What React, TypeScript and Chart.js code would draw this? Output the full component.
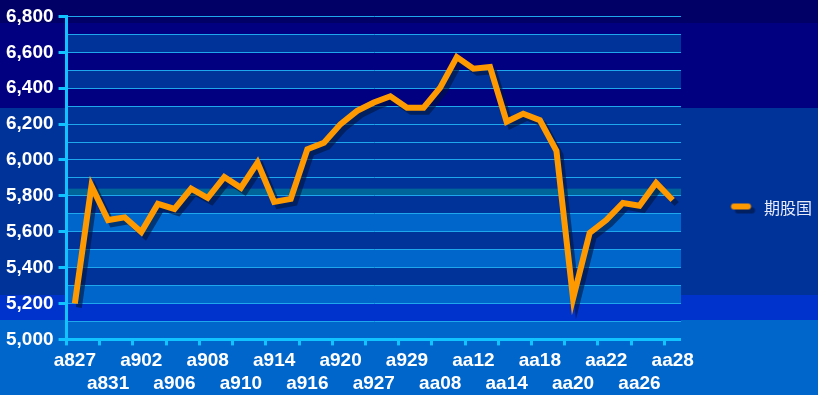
import React, { useEffect, useRef } from 'react';
import { Chart, registerables } from 'chart.js';
Chart.register(...registerables);

const labels = ['a827','a828','a831','a901','a902','a903','a906','a907','a908','a909','a910','a913','a914','a915','a916','a917','a920','a926','a927','a928','a929','a930','aa08','aa11','aa12','aa13','aa14','aa15','aa18','aa19','aa20','aa21','aa22','aa25','aa26','aa27','aa28'];
const values = [5200,5855,5665,5680,5598,5755,5727,5840,5788,5905,5845,5985,5766,5783,6060,6096,6200,6274,6320,6355,6291,6291,6403,6573,6509,6518,6213,6258,6222,6051,5228,5593,5665,5760,5745,5872,5777];
const seriesName = '期股国';
const yMin = 5000;
const yMax = 6800;
const yStep = 100;
const yLabelStep = 200;

// plot-area background bands: [fromValue, toValue, colour]
const plotBands: [number, number, string][] = [
  [6700, 6600, '#003399'],
  [6500, 6400, '#003399'],
  [6300, 5000, '#003399'],
  [5840, 5805, '#006699'],
  [5700, 5600, '#0066cc'],
  [5500, 5400, '#0066cc'],
  [5300, 5200, '#0066cc'],
  [5200, 5100, '#0033cc'],
  [5100, 5000, '#0066cc'],
];

const AXIS = '#11c4ff';
const GRID = '#1ea7ec';
const SHADOW = 'rgba(0,20,60,0.6)';

const bandsPlugin = {
  id: 'bands',
  beforeDraw(chart: any) {
    const { ctx, chartArea: a, scales } = chart;
    const y = scales.y;
    ctx.save();
    for (const [from, to, color] of plotBands) {
      const y1 = y.getPixelForValue(from);
      const y2 = y.getPixelForValue(to);
      ctx.fillStyle = color;
      ctx.fillRect(a.left, Math.min(y1, y2), a.right - a.left, Math.abs(y2 - y1));
    }
    ctx.restore();
  },
};

const shadowPlugin = {
  id: 'lineShadow',
  beforeDatasetsDraw(chart: any) {
    const ctx = chart.ctx;
    ctx.save();
    ctx.shadowColor = SHADOW;
    ctx.shadowOffsetX = 4;
    ctx.shadowOffsetY = 4;
    ctx.shadowBlur = 0;
  },
  afterDatasetsDraw(chart: any) {
    chart.ctx.restore();
  },
};

function makeLegendIcon() {
  const c = document.createElement('canvas');
  c.width = 66;
  c.height = 18;
  const g = c.getContext('2d')!;
  g.lineCap = 'round';
  g.lineWidth = 6;
  g.strokeStyle = SHADOW;
  g.beginPath();
  g.moveTo(47.5, 12);
  g.lineTo(61.5, 12);
  g.stroke();
  g.strokeStyle = '#ff9900';
  g.beginPath();
  g.moveTo(43.5, 8);
  g.lineTo(57.5, 8);
  g.stroke();
  return c;
}

const fmt = (v: number) => v.toString().replace(/\B(?=(\d{3})+(?!\d))/g, ',');

export default function App() {
  const ref = useRef<HTMLCanvasElement>(null);
  useEffect(() => {
    const icon = makeLegendIcon();
    const tickFont = { family: '"Liberation Sans", Arial, sans-serif', size: 19, weight: 'bold' as const, lineHeight: 1.2 };
    const chart = new Chart(ref.current!, {
      type: 'line',
      data: {
        labels,
        datasets: [
          {
            label: seriesName,
            data: values,
            borderColor: '#ff9900',
            backgroundColor: '#ff9900',
            borderWidth: 6,
            pointRadius: 0,
            pointHoverRadius: 0,
            tension: 0,
            fill: false,
          },
        ],
      },
      options: {
        animation: false,
        responsive: true,
        maintainAspectRatio: false,
        layout: { padding: { left: 1, top: 16, right: -4, bottom: -4 } },
        plugins: {
          tooltip: { enabled: false },
          legend: {
            position: 'right',
            labels: {
              usePointStyle: true,
              pointStyle: icon as any,
              pointStyleWidth: 65,
              padding: 10,
              color: '#e8ecf8',
              font: { family: '"Noto Sans CJK SC", sans-serif', size: 16 },
            },
          },
        },
        scales: {
          x: {
            offset: true,
            grid: {
              offset: true,
              drawOnChartArea: false,
              drawTicks: true,
              tickLength: 6,
              tickWidth: 3,
              tickColor: (ctx: any) => (typeof ctx.index === 'number' && ctx.index % 2 === 0 ? AXIS : 'transparent'),
            },
            border: { display: true, color: AXIS, width: 3 },
            ticks: {
              autoSkip: false,
              maxRotation: 0,
              minRotation: 0,
              padding: 4,
              color: '#ffffff',
              font: tickFont,
              callback: (_v: any, i: number) => {
                if (i % 2 === 1) return '';
                return (i / 2) % 2 === 0 ? labels[i] : ['', labels[i]];
              },
            },
          },
          y: {
            min: yMin,
            max: yMax,
            grid: {
              color: GRID,
              lineWidth: 1,
              drawTicks: true,
              tickLength: 8,
              tickWidth: 3,
              tickColor: (ctx: any) => (ctx.tick && ctx.tick.value % yLabelStep === 0 ? AXIS : 'transparent'),
            },
            border: { display: true, color: AXIS, width: 3 },
            ticks: {
              stepSize: yStep,
              autoSkip: false,
              padding: 5,
              color: '#ffffff',
              font: tickFont,
              callback: (v: any) => (Number(v) % yLabelStep === 0 ? fmt(Number(v)) : ''),
            },
          },
        },
      },
      plugins: [bandsPlugin, shadowPlugin],
    });
    return () => chart.destroy();
  }, []);

  return (
    <div
      style={{
        position: 'fixed',
        left: 0,
        top: 0,
        width: 818,
        height: 395,
        background:
          'linear-gradient(to bottom, #000066 0px, #000066 23px, #000080 23px, #000080 108px, #003399 108px, #003399 295px, #0033cc 295px, #0033cc 320px, #0066cc 320px, #0066cc 395px)',
      }}
    >
      <canvas ref={ref} />
    </div>
  );
}
